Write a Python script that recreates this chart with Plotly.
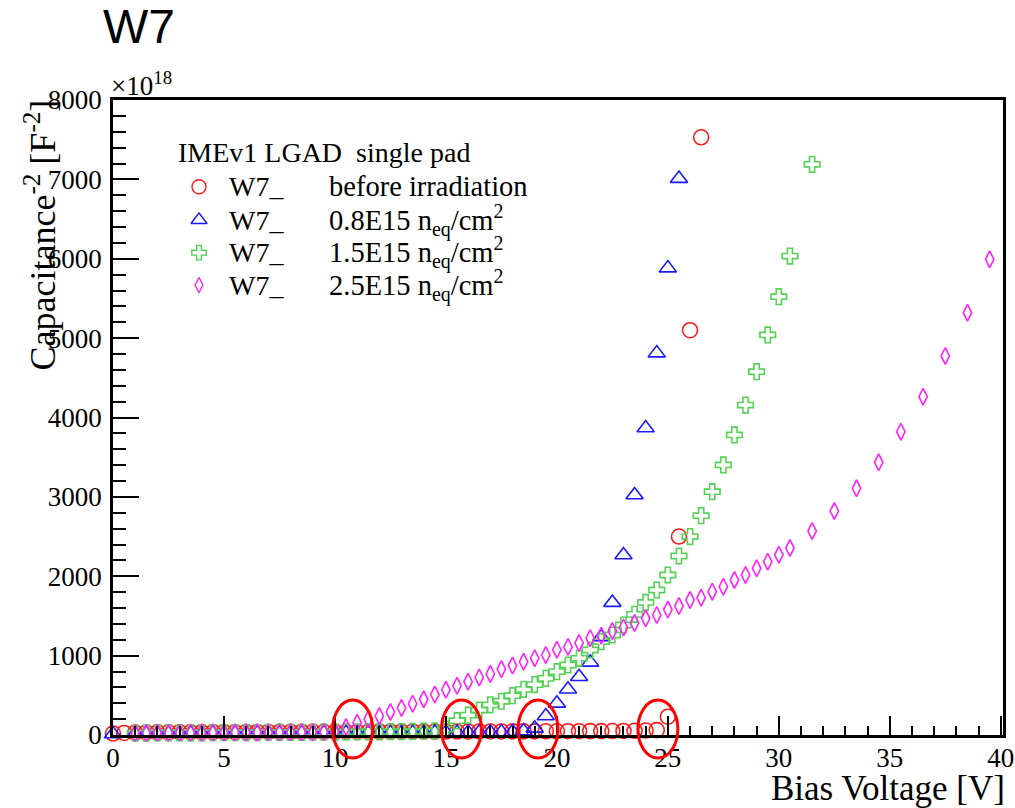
import plotly.graph_objects as go

# ---------------- measured C^-2 curves (units of 1e18 F^-2) ----------------
# before irradiation
v_before = [0, 0.5, 1, 1.5, 2, 2.5, 3, 3.5, 4, 4.5, 5, 5.5, 6, 6.5, 7, 7.5, 8, 8.5,
            9, 9.5, 10, 10.5, 11, 11.5, 12, 12.5, 13, 13.5, 14, 14.5, 15, 15.5, 16,
            16.5, 17, 17.5, 18, 18.5, 19, 19.5, 20, 20.5, 21, 21.5, 22, 22.5, 23,
            23.5, 24, 24.5, 25, 25.5, 26, 26.5]
c_before = [18, 26, 30, 32, 33, 34, 35, 35, 36, 36, 37, 37, 38, 38, 38, 39, 39, 39,
            40, 40, 40, 41, 41, 41, 42, 42, 42, 43, 43, 43, 44, 44, 44,
            45, 45, 45, 46, 46, 46, 47, 47, 48, 48, 49, 49, 50, 51,
            53, 56, 62, 230, 2500, 5100, 7530]

# 0.8E15 neq/cm2
v_08 = [0, 1, 1.5, 2, 2.5, 3, 3.5, 4, 4.5, 5, 5.5, 6, 6.5, 7, 7.5, 8, 8.5, 9, 9.5,
        10, 10.5, 11, 11.5, 12, 12.5, 13, 13.5, 14, 14.5, 15, 15.5, 16, 16.5, 17,
        17.5, 18, 18.5, 19, 19.5, 20, 20.5, 21, 21.5, 22, 22.5, 23, 23.5, 24, 24.5,
        25, 25.5]
c_08 = [12, 18, 20, 21, 22, 22, 23, 23, 24, 24, 25, 25, 25, 26, 26, 26, 27, 27, 27,
        28, 28, 28, 29, 29, 29, 30, 30, 31, 31, 32, 32, 33, 34, 35,
        37, 40, 50, 84, 239, 399, 576, 734, 915, 1236, 1668, 2268, 3024, 3868, 4811,
        5882, 7010]

# 1.5E15 neq/cm2
v_15 = [1, 1.5, 2, 2.5, 3, 3.5, 4, 4.5, 5, 5.5, 6, 6.5, 7, 7.5, 8, 8.5, 9, 9.5,
        10, 10.5, 11, 11.5, 12, 12.5, 13, 13.5, 14, 14.5, 15, 15.5, 16, 16.5, 17,
        17.5, 18, 18.5, 19, 19.5, 20, 20.5, 21, 21.5, 22, 22.5, 23, 23.5, 24, 24.5,
        25, 25.5, 26, 26.5, 27, 27.5, 28, 28.5, 29, 29.5, 30, 30.5, 31.5]
c_15 = [22, 24, 25, 26, 27, 28, 28, 29, 30, 30, 31, 31, 32, 33, 33, 34, 35, 35,
        36, 37, 38, 39, 40, 41, 43, 45, 48, 53, 75, 180, 250, 315, 380,
        425, 495, 575, 635, 714, 798, 882, 966, 1071, 1176, 1260, 1386, 1520, 1670, 1827,
        2016, 2255, 2500, 2763, 3065, 3402, 3780, 4157, 4577, 5040, 5522, 6034, 7190]

# 2.5E15 neq/cm2
v_25 = [1, 1.5, 2, 2.5, 3, 3.5, 4, 4.5, 5, 5.5, 6, 6.5, 7, 7.5, 8, 8.5, 9, 9.5,
        10, 10.5, 11, 11.5, 12, 12.5, 13, 13.5, 14, 14.5, 15, 15.5, 16, 16.5, 17,
        17.5, 18, 18.5, 19, 19.5, 20, 20.5, 21, 21.5, 22, 22.5, 23, 23.5, 24, 24.5,
        25, 25.5, 26, 26.5, 27, 27.5, 28, 28.5, 29, 29.5, 30, 30.5, 31.5, 32.5, 33.5,
        34.5, 35.5, 36.5, 37.5, 38.5, 39.5]
c_25 = [24, 26, 27, 28, 29, 30, 30, 31, 32, 32, 33, 33, 34, 35, 35, 36, 37, 38,
        45, 100, 155, 200, 240, 290, 340, 395, 450, 510, 570, 620, 672, 725, 770,
        830, 875, 922, 968, 1008, 1075, 1110, 1160, 1220, 1250, 1310, 1355, 1410, 1470, 1512,
        1580, 1625, 1700, 1730, 1806, 1869, 1953, 2016, 2100, 2184, 2270, 2355, 2570, 2822, 3108,
        3435, 3821, 4262, 4775, 5320, 5993]

labels = ["before irradiation",
          "0.8E15 n<sub>eq</sub>/cm<sup>2</sup>",
          "1.5E15 n<sub>eq</sub>/cm<sup>2</sup>",
          "2.5E15 n<sub>eq</sub>/cm<sup>2</sup>"]
sample = "W7_"
header = "IMEv1 LGAD  single pad"

# highlighted onset regions: (centre voltage, centre C^-2), half-width (V), half-height (C^-2)
marked_v = [10.8, 15.7, 19.15, 24.55]
marked_c = 75
mark_dv, mark_dc = 0.9, 365

# ---------------- page geometry ----------------
W, H = 1015, 808
ML, MR, MT, MB = 113, 12, 100, 73
PW, PH = W - ML - MR, H - MT - MB
X_RANGE = [0, 40.1]
Y_RANGE = [0, 8000]

SERIF = "Liberation Serif"
SANS = "Liberation Sans"


def px_x(px):
    return (px - ML) / PW


def px_y(py):
    return (H - MB - py) / PH


styles = [
    dict(color="#ff1a1a", symbol="circle-open", size=15),
    dict(color="#1a1aff", symbol="triangle-up-open", size=15),
    dict(color="#55d255", symbol="cross-open", size=13),
    dict(color="#ff22ff", symbol="diamond-tall-open", size=12),
]
data = [(v_before, c_before), (v_08, c_08), (v_15, c_15), (v_25, c_25)]

fig = go.Figure()
for (vv, cc), st in zip(data, styles):
    fig.add_trace(go.Scatter(
        x=vv, y=cc, mode="markers", showlegend=False, cliponaxis=False,
        marker=dict(symbol=st["symbol"], size=st["size"], color=st["color"],
                    line=dict(width=1.6, color=st["color"])),
        hoverinfo="x+y"))

# legend swatches on an overlay frame spanning the plot area
row_py = [186.7, 220.0, 252.7, 285.0]
for st, py in zip(styles, row_py):
    fig.add_trace(go.Scatter(
        x=[px_x(199)], y=[px_y(py)], xaxis="x2", yaxis="y2", mode="markers",
        showlegend=False, hoverinfo="skip",
        marker=dict(symbol=st["symbol"], size=st["size"] - 1, color=st["color"],
                    line=dict(width=1.4, color=st["color"]))))

annotations = []
annotations.append(dict(text=header, xref="paper", yref="paper", x=px_x(176), y=px_y(152),
                        xanchor="left", yanchor="middle", showarrow=False,
                        font=dict(family=SERIF, size=28, color="black")))
for lab, py in zip(labels, row_py):
    annotations.append(dict(text=sample, xref="paper", yref="paper", x=px_x(227), y=px_y(py),
                            xanchor="left", yanchor="middle", showarrow=False,
                            font=dict(family=SERIF, size=28, color="black")))
    annotations.append(dict(text=lab, xref="paper", yref="paper", x=px_x(327), y=px_y(py),
                            xanchor="left", yanchor="middle", showarrow=False,
                            font=dict(family=SERIF, size=28.5, color="black")))

# axis titles, exponent and pad title
annotations.append(dict(text="Bias Voltage [V]", xref="paper", yref="paper",
                        x=px_x(1007), y=px_y(788), xanchor="right", yanchor="middle",
                        showarrow=False, font=dict(family=SERIF, size=35, color="black")))
annotations.append(dict(text="Capacitance<sup>-2</sup> [F<sup>-2</sup>]", xref="paper", yref="paper",
                        x=px_x(40), y=px_y(98), xanchor="center", yanchor="top", textangle=-90,
                        showarrow=False, font=dict(family=SERIF, size=36, color="black")))
annotations.append(dict(text="×10<sup>18</sup>", xref="paper", yref="paper",
                        x=px_x(109), y=px_y(103), xanchor="left", yanchor="bottom",
                        showarrow=False, font=dict(family=SERIF, size=27, color="black")))
annotations.append(dict(text="W7", xref="paper", yref="paper",
                        x=px_x(101), y=px_y(26), xanchor="left", yanchor="middle",
                        showarrow=False, font=dict(family=SANS, size=48, color="black")))

shapes = []
span = Y_RANGE[1] - Y_RANGE[0]
for v in marked_v:
    shapes.append(dict(type="circle", xref="x", yref="paper",
                       x0=v - mark_dv, x1=v + mark_dv,
                       y0=(marked_c - mark_dc - Y_RANGE[0]) / span,
                       y1=(marked_c + mark_dc - Y_RANGE[0]) / span,
                       line=dict(color="#ff0000", width=3)))

axis_common = dict(showgrid=False, zeroline=False, showline=True, linecolor="black",
                   linewidth=2.5, mirror=True, ticks="inside", tickcolor="black",
                   automargin=False, tickwidth=2,
                   tickfont=dict(family=SERIF, size=27, color="black"))

fig.update_layout(
    width=W, height=H, autosize=False,
    margin=dict(l=ML, r=MR, t=MT, b=MB, pad=0, autoexpand=False),
    paper_bgcolor="white", plot_bgcolor="white",
    xaxis=dict(range=X_RANGE, dtick=5, tick0=0, ticklen=19, ticklabelstandoff=-3,
               minor=dict(ticks="inside", dtick=1, ticklen=9, tickwidth=1.5, tickcolor="black"),
               **axis_common),
    yaxis=dict(range=Y_RANGE, dtick=1000, tick0=0, ticklen=26, ticklabelstandoff=3,
               minor=dict(ticks="inside", dtick=200, ticklen=13, tickwidth=1.5, tickcolor="black"),
               **axis_common),
    xaxis2=dict(range=[0, 1], overlaying="x", anchor="y2", visible=False),
    yaxis2=dict(range=[0, 1], overlaying="y", anchor="x2", visible=False),
    annotations=annotations,
    shapes=shapes,
    showlegend=False,
)

fig.write_html("out.html")
